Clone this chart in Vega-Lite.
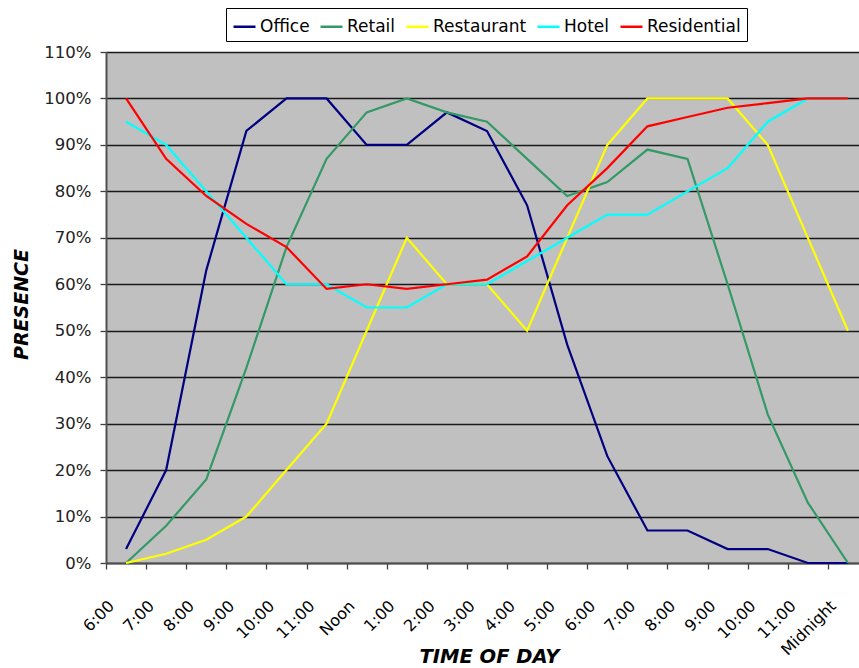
{
  "$schema": "https://vega.github.io/schema/vega-lite/v6.json",
  "autosize": {"type": "none"},
  "padding": {"left": 106, "top": 52, "right": 0, "bottom": 105},
  "width": 753,
  "height": 511,
  "background": "white",
  "config": {
    "view": {"fill": "#C0C0C0", "stroke": null},
    "font": "DejaVu Sans"
  },
  "data": {
    "values": [
      {"time": "6:00 AM", "use": "Office", "presence": 0.03},
      {"time": "7:00 AM", "use": "Office", "presence": 0.20},
      {"time": "8:00 AM", "use": "Office", "presence": 0.63},
      {"time": "9:00 AM", "use": "Office", "presence": 0.93},
      {"time": "10:00 AM", "use": "Office", "presence": 1.00},
      {"time": "11:00 AM", "use": "Office", "presence": 1.00},
      {"time": "Noon", "use": "Office", "presence": 0.90},
      {"time": "1:00 PM", "use": "Office", "presence": 0.90},
      {"time": "2:00 PM", "use": "Office", "presence": 0.97},
      {"time": "3:00 PM", "use": "Office", "presence": 0.93},
      {"time": "4:00 PM", "use": "Office", "presence": 0.77},
      {"time": "5:00 PM", "use": "Office", "presence": 0.47},
      {"time": "6:00 PM", "use": "Office", "presence": 0.23},
      {"time": "7:00 PM", "use": "Office", "presence": 0.07},
      {"time": "8:00 PM", "use": "Office", "presence": 0.07},
      {"time": "9:00 PM", "use": "Office", "presence": 0.03},
      {"time": "10:00 PM", "use": "Office", "presence": 0.03},
      {"time": "11:00 PM", "use": "Office", "presence": 0.0},
      {"time": "Midnight", "use": "Office", "presence": 0.0},

      {"time": "6:00 AM", "use": "Retail", "presence": 0.0},
      {"time": "7:00 AM", "use": "Retail", "presence": 0.08},
      {"time": "8:00 AM", "use": "Retail", "presence": 0.18},
      {"time": "9:00 AM", "use": "Retail", "presence": 0.42},
      {"time": "10:00 AM", "use": "Retail", "presence": 0.68},
      {"time": "11:00 AM", "use": "Retail", "presence": 0.87},
      {"time": "Noon", "use": "Retail", "presence": 0.97},
      {"time": "1:00 PM", "use": "Retail", "presence": 1.00},
      {"time": "2:00 PM", "use": "Retail", "presence": 0.97},
      {"time": "3:00 PM", "use": "Retail", "presence": 0.95},
      {"time": "4:00 PM", "use": "Retail", "presence": 0.87},
      {"time": "5:00 PM", "use": "Retail", "presence": 0.79},
      {"time": "6:00 PM", "use": "Retail", "presence": 0.82},
      {"time": "7:00 PM", "use": "Retail", "presence": 0.89},
      {"time": "8:00 PM", "use": "Retail", "presence": 0.87},
      {"time": "9:00 PM", "use": "Retail", "presence": 0.60},
      {"time": "10:00 PM", "use": "Retail", "presence": 0.32},
      {"time": "11:00 PM", "use": "Retail", "presence": 0.13},
      {"time": "Midnight", "use": "Retail", "presence": 0.0},

      {"time": "6:00 AM", "use": "Restaurant", "presence": 0.0},
      {"time": "7:00 AM", "use": "Restaurant", "presence": 0.02},
      {"time": "8:00 AM", "use": "Restaurant", "presence": 0.05},
      {"time": "9:00 AM", "use": "Restaurant", "presence": 0.10},
      {"time": "10:00 AM", "use": "Restaurant", "presence": 0.20},
      {"time": "11:00 AM", "use": "Restaurant", "presence": 0.30},
      {"time": "Noon", "use": "Restaurant", "presence": 0.50},
      {"time": "1:00 PM", "use": "Restaurant", "presence": 0.70},
      {"time": "2:00 PM", "use": "Restaurant", "presence": 0.60},
      {"time": "3:00 PM", "use": "Restaurant", "presence": 0.60},
      {"time": "4:00 PM", "use": "Restaurant", "presence": 0.50},
      {"time": "5:00 PM", "use": "Restaurant", "presence": 0.70},
      {"time": "6:00 PM", "use": "Restaurant", "presence": 0.90},
      {"time": "7:00 PM", "use": "Restaurant", "presence": 1.00},
      {"time": "8:00 PM", "use": "Restaurant", "presence": 1.00},
      {"time": "9:00 PM", "use": "Restaurant", "presence": 1.00},
      {"time": "10:00 PM", "use": "Restaurant", "presence": 0.90},
      {"time": "11:00 PM", "use": "Restaurant", "presence": 0.70},
      {"time": "Midnight", "use": "Restaurant", "presence": 0.50},

      {"time": "6:00 AM", "use": "Hotel", "presence": 0.95},
      {"time": "7:00 AM", "use": "Hotel", "presence": 0.90},
      {"time": "8:00 AM", "use": "Hotel", "presence": 0.80},
      {"time": "9:00 AM", "use": "Hotel", "presence": 0.70},
      {"time": "10:00 AM", "use": "Hotel", "presence": 0.60},
      {"time": "11:00 AM", "use": "Hotel", "presence": 0.60},
      {"time": "Noon", "use": "Hotel", "presence": 0.55},
      {"time": "1:00 PM", "use": "Hotel", "presence": 0.55},
      {"time": "2:00 PM", "use": "Hotel", "presence": 0.60},
      {"time": "3:00 PM", "use": "Hotel", "presence": 0.60},
      {"time": "4:00 PM", "use": "Hotel", "presence": 0.65},
      {"time": "5:00 PM", "use": "Hotel", "presence": 0.70},
      {"time": "6:00 PM", "use": "Hotel", "presence": 0.75},
      {"time": "7:00 PM", "use": "Hotel", "presence": 0.75},
      {"time": "8:00 PM", "use": "Hotel", "presence": 0.80},
      {"time": "9:00 PM", "use": "Hotel", "presence": 0.85},
      {"time": "10:00 PM", "use": "Hotel", "presence": 0.95},
      {"time": "11:00 PM", "use": "Hotel", "presence": 1.00},
      {"time": "Midnight", "use": "Hotel", "presence": 1.00},

      {"time": "6:00 AM", "use": "Residential", "presence": 1.00},
      {"time": "7:00 AM", "use": "Residential", "presence": 0.87},
      {"time": "8:00 AM", "use": "Residential", "presence": 0.79},
      {"time": "9:00 AM", "use": "Residential", "presence": 0.73},
      {"time": "10:00 AM", "use": "Residential", "presence": 0.68},
      {"time": "11:00 AM", "use": "Residential", "presence": 0.59},
      {"time": "Noon", "use": "Residential", "presence": 0.60},
      {"time": "1:00 PM", "use": "Residential", "presence": 0.59},
      {"time": "2:00 PM", "use": "Residential", "presence": 0.60},
      {"time": "3:00 PM", "use": "Residential", "presence": 0.61},
      {"time": "4:00 PM", "use": "Residential", "presence": 0.66},
      {"time": "5:00 PM", "use": "Residential", "presence": 0.77},
      {"time": "6:00 PM", "use": "Residential", "presence": 0.85},
      {"time": "7:00 PM", "use": "Residential", "presence": 0.94},
      {"time": "8:00 PM", "use": "Residential", "presence": 0.96},
      {"time": "9:00 PM", "use": "Residential", "presence": 0.98},
      {"time": "10:00 PM", "use": "Residential", "presence": 0.99},
      {"time": "11:00 PM", "use": "Residential", "presence": 1.00},
      {"time": "Midnight", "use": "Residential", "presence": 1.00}
    ]
  },
  "mark": {"type": "line", "strokeWidth": 2.2, "clip": false},
  "encoding": {
    "x": {
      "field": "time",
      "type": "nominal",
      "sort": null,
      "scale": {
        "type": "band",
        "domain": ["6:00 AM", "7:00 AM", "8:00 AM", "9:00 AM", "10:00 AM", "11:00 AM", "Noon", "1:00 PM", "2:00 PM", "3:00 PM", "4:00 PM", "5:00 PM", "6:00 PM", "7:00 PM", "8:00 PM", "9:00 PM", "10:00 PM", "11:00 PM", "Midnight"],
        "range": [0, 762],
        "paddingInner": 0,
        "paddingOuter": 0
      },
      "axis": {
        "title": "TIME OF DAY",
        "titleFont": "DejaVu Sans",
        "titleFontSize": 19.5,
        "titleFontWeight": "bold",
        "titleFontStyle": "italic",
        "titleColor": "black",
        "titleX": 383,
        "titleY": 99,
        "titleAlign": "center",
        "titleBaseline": "alphabetic",
        "labelExpr": "split(datum.label, ' ')[0]",
        "labelAngle": -45,
        "labelAlign": "right",
        "labelBaseline": "middle",
        "labelFont": "DejaVu Sans",
        "labelFontSize": 16,
        "labelColor": "black",
        "labelPadding": 34,
        "labelOffset": -15,
        "labelOverlap": false,
        "tickBand": "extent",
        "tickSize": 6,
        "tickColor": "#404040",
        "tickWidth": 1.3,
        "domainColor": "#505050",
        "domainWidth": 2,
        "grid": false
      }
    },
    "y": {
      "field": "presence",
      "type": "quantitative",
      "scale": {"domain": [0, 1.1], "nice": false, "zero": true},
      "axis": {
        "title": "PRESENCE",
        "titleFont": "DejaVu Sans",
        "titleFontSize": 19,
        "titleFontWeight": "bold",
        "titleFontStyle": "italic",
        "titleColor": "black",
        "titleAngle": -90,
        "titleX": -79,
        "titleY": 252,
        "titleAlign": "center",
        "titleBaseline": "alphabetic",
        "values": [0, 0.1, 0.2, 0.3, 0.4, 0.5, 0.6, 0.7, 0.8, 0.9, 1.0, 1.1],
        "format": ".0%",
        "labelFont": "DejaVu Sans",
        "labelFontSize": 16.5,
        "labelColor": "#222222",
        "labelPadding": 9,
        "tickSize": 6,
        "tickColor": "#404040",
        "tickWidth": 1.3,
        "domainColor": "#505050",
        "domainWidth": 2,
        "grid": true,
        "gridColor": "#1a1a1a",
        "gridWidth": 1.3,
        "gridOpacity": 1
      }
    },
    "color": {
      "field": "use",
      "type": "nominal",
      "sort": null,
      "scale": {
        "domain": ["Office", "Retail", "Restaurant", "Hotel", "Residential"],
        "range": ["#000080", "#339966", "#FFFF00", "#00FFFF", "#FF0000"]
      },
      "legend": {
        "title": null,
        "orient": "none",
        "legendX": 120,
        "legendY": -44,
        "direction": "horizontal",
        "symbolType": "stroke",
        "symbolSize": 484,
        "symbolStrokeWidth": 2.5,
        "labelFont": "DejaVu Sans",
        "labelFontSize": 17,
        "labelColor": "black",
        "labelOffset": 3,
        "columnPadding": 5,
        "padding": 6,
        "strokeColor": "black",
        "fillColor": "white",
        "cornerRadius": 0
      }
    }
  }
}
